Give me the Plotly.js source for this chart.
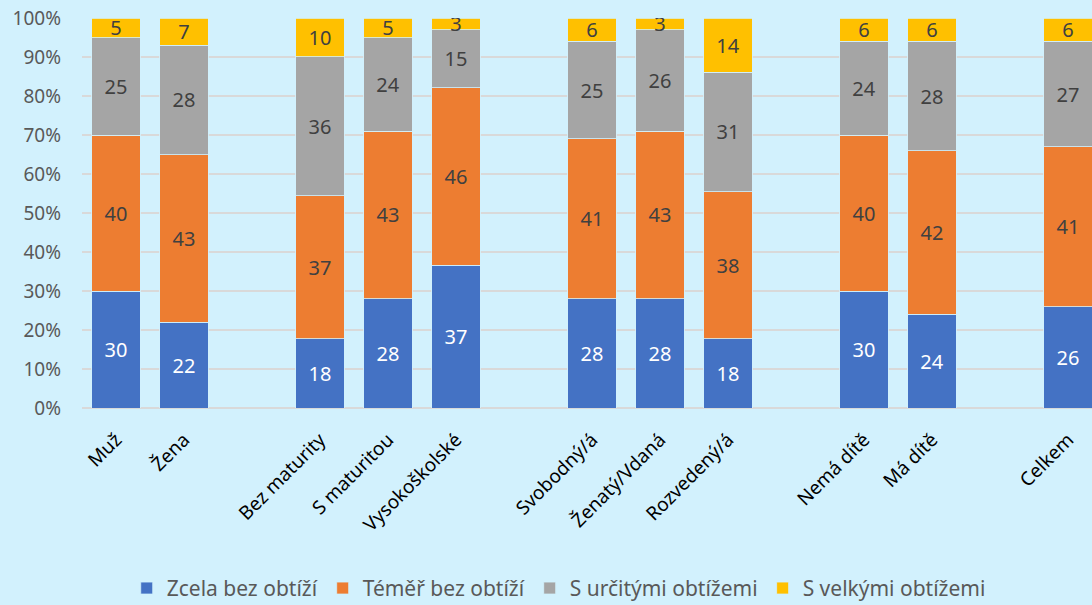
<!DOCTYPE html>
<html>
<head>
<meta charset="utf-8">
<script src="https://cdn.plot.ly/plotly-3.0.1.min.js"></script>
<style>html,body{margin:0;padding:0;background:#D2F1FD;}#chart{width:1092px;height:605px;}</style>
</head>
<body>
<div id="chart"></div>
<script>
const categories = ["Muž","Žena","Bez maturity","S maturitou","Vysokoškolské","Svobodný/á","Ženatý/Vdaná","Rozvedený/á","Nemá dítě","Má dítě","Celkem"];
// axis order with empty gap slots between groups
const axisOrder = ["Muž","Žena"," ","Bez maturity","S maturitou","Vysokoškolské","  ","Svobodný/á","Ženatý/Vdaná","Rozvedený/á","   ","Nemá dítě","Má dítě","    ","Celkem"];
const seriesNames = ["Zcela bez obtíží","Téměř bez obtíží","S určitými obtížemi","S velkými obtížemi"];
const zcela   = [30,22,18,28,37,28,28,18,30,24,26];
const temer   = [40,43,37,43,46,41,43,38,40,42,41];
const urcite  = [25,28,36,24,15,25,26,31,24,28,27];
const velke   = [5,7,10,5,3,6,3,14,6,6,6];
const yTickVals = [0,10,20,30,40,50,60,70,80,90,100];
const yTickText = ["0%","10%","20%","30%","40%","50%","60%","70%","80%","90%","100%"];
const colors = ["#4472C4","#ED7D31","#A5A5A5","#FFC000"];
const textColors = ["#FFFFFF","#404040","#404040","#404040"];
const series = [zcela, temer, urcite, velke];
const FONT = 'Noto Sans, sans-serif';

const traces = series.map((vals, i) => ({
  type: 'bar',
  name: seriesNames[i],
  x: categories,
  y: vals,
  text: vals.map(String),
  textposition: 'inside',
  insidetextanchor: 'middle',
  textangle: 0,
  constraintext: 'none',
  textfont: {family: FONT, size: 20, color: textColors[i]},
  marker: {color: colors[i], line: {color: '#D2F1FD', width: 0.8}},
  hoverinfo: 'skip'
}));

const layout = {
  width: 1092, height: 605,
  paper_bgcolor: '#D2F1FD', plot_bgcolor: '#D2F1FD',
  barmode: 'stack', barnorm: 'percent', bargap: 0.28,
  margin: {l: 82, r: 0, t: 18, b: 197, autoexpand: false},
  showlegend: true,
  legend: {orientation: 'h', x: 0.472, xanchor: 'center', y: -0.41, yanchor: 'top',
           font: {family: FONT, size: 21, color: '#595959'}, traceorder: 'normal',
           itemwidth: 30, bgcolor: 'rgba(0,0,0,0)'},
  xaxis: {type: 'category', categoryorder: 'array', categoryarray: axisOrder,
          range: [-0.5, 14.353], tickangle: -45, showgrid: false, zeroline: false,
          tickfont: {family: FONT, size: 19, color: '#000000'}, automargin: false,
          showline: false, ticks: '', ticklabelstandoff: 16},
  yaxis: {range: [0, 100], tickmode: 'array', tickvals: yTickVals, ticktext: yTickText,
          gridcolor: '#D9D9D9', gridwidth: 2, zeroline: true, zerolinecolor: '#D9D9D9', zerolinewidth: 2,
          tickfont: {family: FONT, size: 19, color: '#595959'}, automargin: false,
          ticklabelstandoff: 20, ticks: '', showline: false, fixedrange: true}
};

Plotly.newPlot('chart', traces, layout, {displayModeBar: false, staticPlot: true});
</script>
</body>
</html>
